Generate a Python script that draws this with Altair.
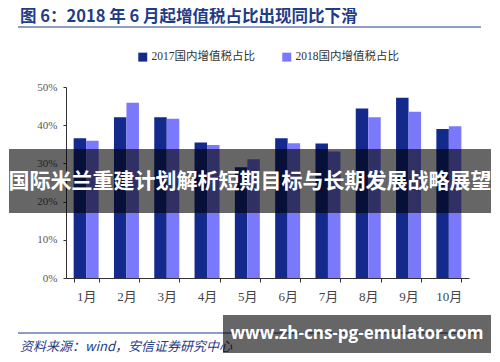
import altair as alt
import pandas as pd

months = ["1月", "2月", "3月", "4月", "5月", "6月", "7月", "8月", "9月", "10月"]
series = ["2017国内增值税占比", "2018国内增值税占比"]
v2017 = [36.6, 42.1, 42.1, 35.5, 29.0, 36.6, 35.2, 44.4, 47.2, 39.0]
v2018 = [35.9, 45.9, 41.7, 34.8, 31.1, 35.3, 33.1, 42.1, 43.5, 39.7]
y_ticks = [0, 10, 20, 30, 40, 50]
colors = ["#132A8C", "#7B79FB"]

title_text = "图 6：2018 年 6 月起增值税占比出现同比下滑"
source_text = "资料来源：wind，安信证券研究中心"
banner_text = "国际米兰重建计划解析短期目标与长期发展战略展望"
site_text = "www.zh-cns-pg-emulator.com"

rows = []
for m, a, b in zip(months, v2017, v2018):
    rows.append({"month": m, "series": series[0], "value": a})
    rows.append({"month": m, "series": series[1], "value": b})
df = pd.DataFrame(rows)

serif = "Liberation Serif, Noto Sans CJK SC"
navy = "#1F3C88"

bars = alt.Chart(df).mark_bar().encode(
    x=alt.X("month:N", sort=months, title=None,
            scale=alt.Scale(paddingInner=0.38, paddingOuter=0.19),
            axis=alt.Axis(labelAngle=0, tickBand="extent", tickSize=4, labelPadding=8,
                          labelFont=serif, labelFontSize=13, labelColor="#444",
                          domainColor="#333", tickColor="#333")),
    xOffset=alt.XOffset("series:N", sort=series, scale=alt.Scale(paddingInner=0, paddingOuter=0)),
    y=alt.Y("value:Q", title=None,
            scale=alt.Scale(domain=[0, 50], nice=False),
            axis=alt.Axis(values=y_ticks, labelExpr="datum.value + '%'", grid=False,
                          tickSize=3, labelPadding=6, labelFont=serif, labelFontSize=11,
                          labelColor="#555", domainColor="#333", tickColor="#333")),
    color=alt.Color("series:N", sort=series,
                    scale=alt.Scale(domain=series, range=colors),
                    legend=alt.Legend(title=None, orient="none", legendX=71, legendY=-36,
                                      direction="horizontal", symbolType="square",
                                      symbolSize=80, symbolStrokeWidth=0,
                                      labelFont=serif, labelFontSize=11.5, labelColor="#333",
                                      columnPadding=26, labelOffset=3)),
)

def text_layer(txt, x, y, **kw):
    return alt.Chart(pd.DataFrame({"t": [txt]})).mark_text(**kw).encode(
        x=alt.value(x), y=alt.value(y), text="t:N")

def rule_layer(x, x2, y, color, width):
    return alt.Chart(pd.DataFrame({"t": [0]})).mark_rule(color=color, strokeWidth=width).encode(
        x=alt.value(x), x2=alt.value(x2), y=alt.value(y))

def rect_layer(x, x2, y, y2):
    return alt.Chart(pd.DataFrame({"t": [0]})).mark_rect(color="black", opacity=0.6).encode(
        x=alt.value(x), x2=alt.value(x2), y=alt.value(y), y2=alt.value(y2))

title = text_layer(title_text, -46, -70, align="left", baseline="middle", font="Noto Sans CJK SC",
                   fontSize=16.5, fontWeight="bold", color=navy)
title_rule = rule_layer(-48, 415, -60, navy, 1.2)
foot_rule = rule_layer(-48, 415, 246, navy, 1.2)
source = text_layer(source_text, -46, 260, align="left", baseline="middle", font="Noto Sans CJK SC",
                    fontSize=13, fontStyle="italic", color=navy)
banner = rect_layer(-57, 425, 62, 126)
banner_t = text_layer(banner_text, 184, 95, align="center", baseline="middle", font="Noto Sans CJK SC",
                      fontSize=21, fontWeight="bold", color="white")
box = rect_layer(157, 425, 228, 266)
box_t = text_layer(site_text, 291, 247, align="center", baseline="middle", font="Open Sans",
                   fontSize=17, fontWeight="bold", color="white")

chart = alt.layer(bars, title, title_rule, foot_rule, source, banner, banner_t, box, box_t).properties(
    width=403, height=191,
    autosize=alt.AutoSizeParams(type="none"),
    padding={"left": 58, "top": 79, "right": 23, "bottom": 76},
).configure_view(stroke=None).configure_axis(zindex=0)

chart.save("out.html", embed_options={"renderer": "svg", "actions": False})
